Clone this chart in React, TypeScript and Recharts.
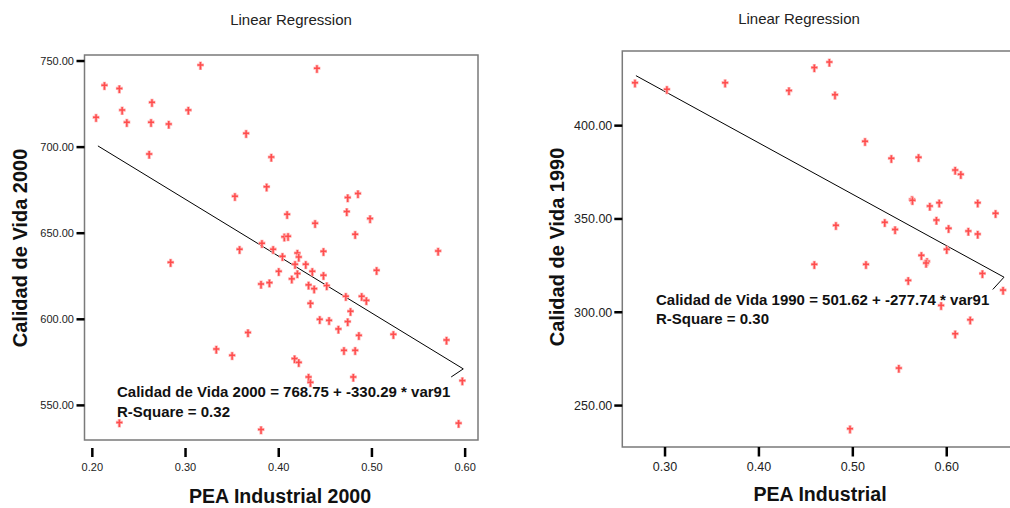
import React from 'react'
import { ScatterChart, Scatter, XAxis, YAxis, ReferenceArea } from 'recharts'

// PEA industrial 2000 vs calidad de vida 2000
const peaIndustrial2000 = [
  0.316, 0.441, 0.213, 0.229, 0.264, 0.232, 0.303, 0.204, 0.237, 0.263,
  0.282, 0.365, 0.392, 0.261, 0.387, 0.353, 0.474, 0.485, 0.473, 0.498,
  0.409, 0.439, 0.482, 0.406, 0.41, 0.382, 0.394, 0.358, 0.571, 0.448,
  0.404, 0.42, 0.4215, 0.284, 0.4175, 0.429, 0.4, 0.436, 0.505, 0.42,
  0.448, 0.414, 0.381, 0.39, 0.432, 0.438, 0.4515, 0.472, 0.489, 0.494,
  0.434, 0.477, 0.444, 0.454, 0.474, 0.464, 0.367, 0.523, 0.486, 0.58,
  0.333, 0.35, 0.47, 0.482, 0.417, 0.4215, 0.432, 0.434, 0.48, 0.597,
  0.229, 0.381, 0.593,
]
const calidadVida2000 = [
  747.7, 745.8, 736.0, 734.1, 726.0, 721.5, 721.5, 717.3, 714.5, 714.5,
  713.4, 708.0, 694.2, 696.0, 677.0, 671.5, 670.8, 673.1, 662.6, 658.5,
  661.0, 655.8, 649.4, 647.9, 648.3, 644.2, 640.7, 640.7, 639.7, 639.5,
  636.6, 638.5, 636.2, 633.1, 632.0, 632.0, 627.9, 627.9, 628.5, 626.6,
  625.6, 623.5, 620.5, 621.3, 620.0, 617.8, 619.6, 613.4, 613.4, 611.0,
  609.3, 604.7, 600.0, 599.4, 598.7, 594.4, 592.4, 591.3, 590.7, 588.0,
  582.7, 579.1, 582.0, 582.0, 577.2, 575.0, 566.5, 563.4, 566.5, 564.4,
  540.1, 536.0, 539.7,
]

// PEA industrial vs calidad de vida 1990
const peaIndustrial = [
  0.268, 0.302, 0.364, 0.432, 0.459, 0.475, 0.481, 0.513, 0.541, 0.57,
  0.609, 0.615, 0.563, 0.5635, 0.582, 0.592, 0.633, 0.652, 0.482, 0.534,
  0.545, 0.589, 0.602, 0.623, 0.633, 0.6, 0.573, 0.579, 0.578, 0.459,
  0.514, 0.638, 0.559, 0.66, 0.594, 0.625, 0.609, 0.549, 0.497,
]
const calidadVida1990 = [
  423.0, 419.5, 423.0, 418.8, 431.1, 434.1, 416.6, 391.6, 382.5, 383.0,
  376.2, 373.9, 360.5, 360.0, 356.9, 358.7, 358.7, 353.0, 346.6, 348.2,
  344.4, 349.4, 345.0, 343.5, 341.9, 333.7, 330.5, 327.3, 326.4, 325.7,
  325.7, 320.8, 317.1, 311.9, 303.7, 296.0, 288.5, 270.1, 237.6,
]

// fitted line as drawn (ends with the little return stroke)
const fit2000X = [0.206, 0.598, 0.585]
const fit2000Y = [700.7, 571.2, 566.5]
const fit1990X = [0.269, 0.661, 0.649]
const fit1990Y = [426.8, 318.8, 312.2]

const ticks2000X = [0.2, 0.3, 0.4, 0.5, 0.6]
const ticks2000Y = [550, 600, 650, 700, 750]
const ticks1990X = [0.3, 0.4, 0.5, 0.6]
const ticks1990Y = [250, 300, 350, 400]

const FONT = '"Liberation Sans", Arial, Helvetica, sans-serif'
const MARKER = '#ff4d4d'

const toPoints = (xs: number[], ys: number[]) => xs.map((x, i) => ({ x, y: ys[i] }))

const Pin = ({ cx, cy }: any) => (
  <g fill="none">
    <g stroke="#ffb3b3" strokeWidth={3.2}>
      <line x1={cx - 3.5} x2={cx + 3.5} y1={cy} y2={cy} />
      <line x1={cx} x2={cx} y1={cy - 3.5} y2={cy + 5} />
    </g>
    <g stroke={MARKER} strokeWidth={1.5}>
      <line x1={cx - 3} x2={cx + 3} y1={cy} y2={cy} />
      <line x1={cx} x2={cx} y1={cy - 3} y2={cy + 4.5} />
    </g>
  </g>
)

const NoDot = () => <g />

interface TickOpts {
  gap: number
  len: number
  fontSize: number
  textOffset: number
}

function xTick(o: TickOpts) {
  return (p: any) => (
    <g>
      <line x1={p.x} x2={p.x} y1={p.y + o.gap} y2={p.y + o.gap + o.len} stroke="#000" strokeWidth={2.5} />
      <text x={p.x} y={p.y + o.textOffset} textAnchor="middle" fontSize={o.fontSize} fontFamily={FONT} fill="#222">
        {Number(p.payload.value).toFixed(2)}
      </text>
    </g>
  )
}

function yTick(o: TickOpts) {
  return (p: any) => (
    <g>
      <line x1={p.x - o.gap - o.len} x2={p.x - o.gap} y1={p.y} y2={p.y} stroke="#000" strokeWidth={2.5} />
      <text x={p.x - o.textOffset} y={p.y + o.fontSize * 0.36} textAnchor="end" fontSize={o.fontSize} fontFamily={FONT} fill="#222">
        {Number(p.payload.value).toFixed(2)}
      </text>
    </g>
  )
}

interface PanelProps {
  left: number
  points: { x: number; y: number }[]
  fit: { x: number; y: number }[]
  xDomain: [number, number]
  yDomain: [number, number]
  xTicks: number[]
  yTicks: number[]
  margin: { top: number; right: number; bottom: number; left: number }
  yAxisWidth: number
  xTickOpts: TickOpts
  yTickOpts: TickOpts
}

function Panel(props: PanelProps) {
  const { xDomain, yDomain } = props
  return (
    <div style={{ position: 'absolute', left: props.left, top: 0 }}>
      <ScatterChart width={500} height={508} margin={props.margin}>
        <XAxis
          type="number"
          dataKey="x"
          domain={xDomain}
          ticks={props.xTicks}
          allowDataOverflow
          height={30}
          axisLine={false}
          tickLine={false}
          tickSize={0}
          tickMargin={0}
          tick={xTick(props.xTickOpts)}
        />
        <YAxis
          type="number"
          dataKey="y"
          domain={yDomain}
          ticks={props.yTicks}
          allowDataOverflow
          width={props.yAxisWidth}
          axisLine={false}
          tickLine={false}
          tickSize={0}
          tickMargin={0}
          tick={yTick(props.yTickOpts)}
        />
        <ReferenceArea
          x1={xDomain[0]}
          x2={xDomain[1]}
          y1={yDomain[0]}
          y2={yDomain[1]}
          fill="none"
          stroke="#7a7a7a"
          strokeWidth={1.5}
          ifOverflow="visible"
        />
        <Scatter
          data={props.fit}
          line={{ stroke: '#000', strokeWidth: 1 }}
          lineType="joint"
          shape={NoDot}
          isAnimationActive={false}
        />
        <Scatter data={props.points} shape={Pin} isAnimationActive={false} />
      </ScatterChart>
    </div>
  )
}

const label = (s: React.CSSProperties): React.CSSProperties => ({
  position: 'absolute',
  fontFamily: FONT,
  whiteSpace: 'nowrap',
  ...s,
})

export default function App() {
  return (
    <div style={{ position: 'absolute', left: 0, top: 0, width: 1010, height: 508, overflow: 'hidden', background: '#fff' }}>
      <Panel
        left={0}
        points={toPoints(peaIndustrial2000, calidadVida2000)}
        fit={toPoints(fit2000X, fit2000Y)}
        xDomain={[0.1916, 0.6138]}
        yDomain={[529.9, 753.5]}
        xTicks={ticks2000X}
        yTicks={ticks2000Y}
        margin={{ top: 55, right: 22, bottom: 38, left: 0 }}
        yAxisWidth={84.5}
        xTickOpts={{ gap: 8, len: 9, fontSize: 11, textOffset: 30.5 }}
        yTickOpts={{ gap: 0, len: 8, fontSize: 11, textOffset: 10.5 }}
      />
      <Panel
        left={540}
        points={toPoints(peaIndustrial, calidadVida1990)}
        fit={toPoints(fit1990X, fit1990Y)}
        xDomain={[0.2545, 0.6759]}
        yDomain={[227.8, 440]}
        xTicks={ticks1990X}
        yTicks={ticks1990Y}
        margin={{ top: 51, right: 22, bottom: 31, left: 0 }}
        yAxisWidth={82.3}
        xTickOpts={{ gap: 0, len: 9.5, fontSize: 12.5, textOffset: 23.5 }}
        yTickOpts={{ gap: 0, len: 8, fontSize: 12.5, textOffset: 10 }}
      />

      <div style={label({ left: 191, width: 200, top: 11, textAlign: 'center', fontSize: 15, color: '#222' })}>
        Linear Regression
      </div>
      <div style={label({ left: 699, width: 200, top: 10, textAlign: 'center', fontSize: 15, color: '#222' })}>
        Linear Regression
      </div>

      <div style={label({ left: 117, top: 382, fontSize: 15, fontWeight: 'bold', lineHeight: '20px', color: '#111' })}>
        Calidad de Vida 2000 = 768.75 + -330.29 * var91
        <br />
        R-Square = 0.32
      </div>
      <div style={label({ left: 656, top: 290, fontSize: 15, fontWeight: 'bold', lineHeight: '19px', color: '#111' })}>
        Calidad de Vida 1990 = 501.62 + -277.74 * var91
        <br />
        R-Square = 0.30
      </div>

      <div style={label({ left: 130, width: 300, top: 485, textAlign: 'center', fontSize: 19.6, fontWeight: 'bold', color: '#111' })}>
        PEA Industrial 2000
      </div>
      <div style={label({ left: 670, width: 300, top: 483, textAlign: 'center', fontSize: 19.6, fontWeight: 'bold', color: '#111' })}>
        PEA Industrial
      </div>

      <div
        style={label({
          left: 20 - 150,
          width: 300,
          top: 248 - 12,
          height: 24,
          lineHeight: '24px',
          textAlign: 'center',
          fontSize: 20,
          fontWeight: 'bold',
          color: '#111',
          transform: 'rotate(-90deg)',
        })}
      >
        Calidad de Vida 2000
      </div>
      <div
        style={label({
          left: 557 - 150,
          width: 300,
          top: 247 - 12,
          height: 24,
          lineHeight: '24px',
          textAlign: 'center',
          fontSize: 20,
          fontWeight: 'bold',
          color: '#111',
          transform: 'rotate(-90deg)',
        })}
      >
        Calidad de Vida 1990
      </div>
    </div>
  )
}
